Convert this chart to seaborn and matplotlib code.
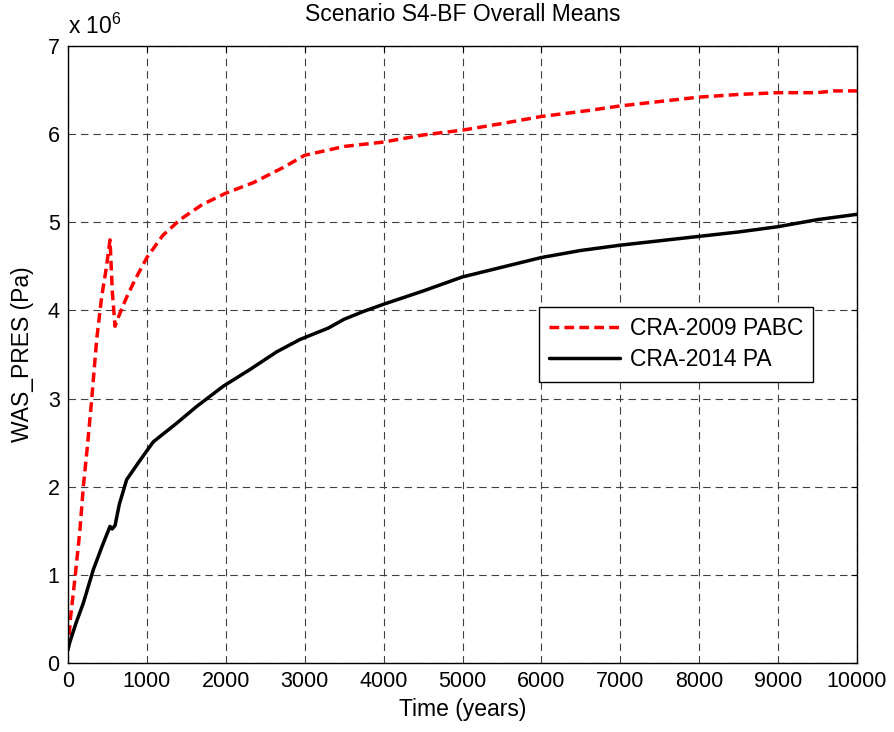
import matplotlib
matplotlib.use("Agg")
import matplotlib.pyplot as plt
import seaborn as sns
import pandas as pd

# Overall mean waste-area pressure, in units of 1e6 Pa
years_2009 = [0, 30, 90, 150, 194, 250, 300, 363, 427, 480, 532, 562, 596, 650,
              743, 850, 1000, 1200, 1420, 1700, 2000, 2350, 2725, 3000, 3500,
              4000, 4500, 5000, 5500, 6000, 6616, 7000, 7500, 8000, 8500, 9000,
              9500, 9700, 10000]
pres_2009 = [0.15, 0.5, 0.98, 1.5, 2.0, 2.5, 2.99, 3.67, 4.16, 4.45, 4.8, 4.2,
             3.82, 3.95, 4.15, 4.35, 4.6, 4.85, 5.03, 5.2, 5.33, 5.45, 5.62,
             5.76, 5.86, 5.91, 5.99, 6.045, 6.12, 6.2, 6.27, 6.32, 6.37, 6.42,
             6.45, 6.47, 6.47, 6.49, 6.49]

years_2014 = [0, 17, 100, 194, 321, 430, 532, 560, 596, 650, 743, 913, 1082,
              1377, 1630, 1968, 2307, 2645, 2940, 3300, 3500, 3750, 4000, 4500,
              5000, 5500, 6000, 6500, 7000, 7500, 8000, 8500, 9000, 9500, 10000]
pres_2014 = [0.15, 0.22, 0.45, 0.68, 1.06, 1.32, 1.55, 1.52, 1.56, 1.8, 2.08,
             2.3, 2.51, 2.72, 2.91, 3.14, 3.33, 3.53, 3.67, 3.8, 3.9, 3.99,
             4.07, 4.22, 4.38, 4.49, 4.6, 4.68, 4.74, 4.79, 4.84, 4.89, 4.95,
             5.03, 5.09]

labels = ["CRA-2009 PABC", "CRA-2014 PA"]
x_ticks = list(range(0, 10001, 1000))
y_ticks = list(range(0, 8))

sns.set_style("white")
plt.rcParams["font.family"] = ["Liberation Sans", "DejaVu Sans"]
plt.rcParams["mathtext.fontset"] = "custom"
plt.rcParams["mathtext.rm"] = "Liberation Sans"
plt.rcParams["text.color"] = "black"
plt.rcParams["axes.labelcolor"] = "black"

df09 = pd.DataFrame({"t": years_2009, "p": pres_2009})
df14 = pd.DataFrame({"t": years_2014, "p": pres_2014})

fig = plt.figure(figsize=(8.94, 7.32), dpi=100)
ax = fig.add_axes([0.0761, 0.0943, 0.8825, 0.8429])

sns.lineplot(data=df09, x="t", y="p", ax=ax, color="#ff0000", linewidth=2.5,
             linestyle=(0, (2.8, 1.5)), label=labels[0], estimator=None, sort=False)
sns.lineplot(data=df14, x="t", y="p", ax=ax, color="black", linewidth=2.5,
             label=labels[1], estimator=None, sort=False)

ax.set_xlim(0, 10000)
ax.set_ylim(0, 7)
ax.set_xticks(x_ticks)
ax.set_yticks(y_ticks)
ax.set_xticklabels([str(v) for v in x_ticks])
ax.set_yticklabels([str(v) for v in y_ticks])
ax.tick_params(direction="in", length=4, width=0.8, labelsize=15.5,
               top=True, right=True, pad=6, colors="black")

ax.grid(True, color="#404040", linewidth=0.8, linestyle=(0, (6.7, 4.5)))
for s in ax.spines.values():
    s.set_visible(True)
    s.set_color("black")
    s.set_linewidth(1.0)

ax.set_xlabel("Time (years)", fontsize=16.5, labelpad=4, color="black")
ax.set_ylabel("WAS_PRES (Pa)", fontsize=16.5, labelpad=10, color="black")
ax.set_title("Scenario S4-BF Overall Means", fontsize=16.5, pad=18, color="black")
ax.text(0.0, 1.012, r"x 10$^{6}$", transform=ax.transAxes, fontsize=16.5,
        ha="left", va="bottom", color="black")

leg = ax.legend(loc="upper left", bbox_to_anchor=(0.597, 0.577), fontsize=16.5,
                frameon=True, fancybox=False, handlelength=3.1,
                handletextpad=0.4, labelspacing=0.35, borderpad=0.45,
                borderaxespad=0.0)
for txt in leg.get_texts():
    txt.set_color("black")
leg.get_frame().set_edgecolor("black")
leg.get_frame().set_linewidth(1.0)
leg.get_frame().set_alpha(1.0)

fig.savefig("out.png", dpi=100, facecolor="white")
